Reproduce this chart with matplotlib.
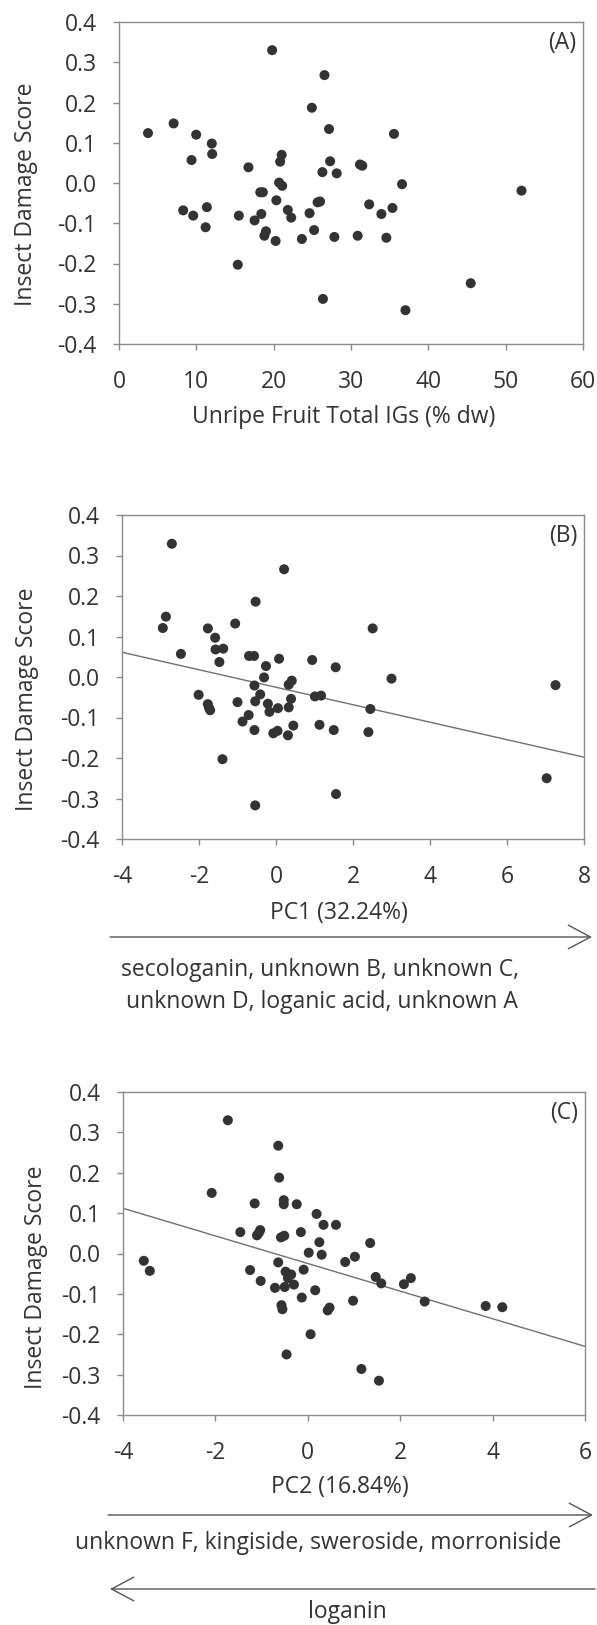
import matplotlib
matplotlib.use("Agg")
import matplotlib.pyplot as plt
import numpy as np

plt.rcParams['font.family'] = ['Open Sans', 'DejaVu Sans']

# ---------------- data ----------------
A_x = [3.75, 7.06, 9.98, 12.0, 12.05, 9.38, 8.3, 9.6, 11.36, 11.2, 15.5, 15.36, 16.74, 17.53,
       18.27, 18.6, 18.4, 19.0, 18.8, 19.8, 20.25, 20.35, 20.7, 21.1, 21.04, 20.84, 21.83, 22.27,
       23.65, 24.64, 24.94, 25.23, 25.68, 26.0, 26.3, 26.57, 26.37, 27.16, 27.3, 27.85, 28.15,
       30.86, 31.16, 31.46, 32.35, 33.93, 34.57, 35.36, 35.56, 36.6, 37.04, 45.48, 52.05]
A_y = [0.124, 0.148, 0.120, 0.098, 0.072, 0.057, -0.068, -0.081, -0.060, -0.110, -0.081, -0.203,
       0.039, -0.093, -0.023, -0.023, -0.077, -0.120, -0.131, 0.330, -0.144, -0.043, 0.001, -0.007,
       0.070, 0.053, -0.067, -0.086, -0.139, -0.075, 0.187, -0.117, -0.048, -0.046, 0.027, 0.268,
       -0.288, 0.134, 0.054, -0.134, 0.024, -0.131, 0.046, 0.043, -0.053, -0.077, -0.136, -0.062,
       0.122, -0.003, -0.316, -0.249, -0.019]

B_x = [-2.705, -2.86, -2.94, -2.47, -1.77, -1.58, -1.57, -1.37, -1.47, -1.06, -2.01, -1.77, -1.74,
       -1.71, -1.39, -1.0, -0.87, -0.71, -0.70, -0.57, -0.53, -0.56, -0.54, -0.41, -0.56, -0.54,
       -0.26, -0.31, -0.21, -0.17, -0.07, 0.05, 0.04, 0.08, 0.21, 0.31, 0.33, 0.33, 0.39, 0.41, 0.45,
       0.94, 1.01, 1.17, 1.13, 1.50, 1.55, 1.56, 2.40, 2.45, 2.51, 3.00, 7.03, 7.26]
B_y = [0.329, 0.149, 0.121, 0.057, 0.120, 0.097, 0.068, 0.070, 0.037, 0.132, -0.044, -0.067, -0.076,
       -0.082, -0.203, -0.062, -0.110, -0.094, 0.052, 0.052, 0.186, -0.021, -0.060, -0.043, -0.131,
       -0.317, 0.027, -0.001, -0.066, -0.086, -0.139, -0.077, -0.133, 0.045, 0.266, -0.144, -0.075,
       -0.019, -0.054, -0.009, -0.120, 0.042, -0.048, -0.046, -0.118, -0.131, 0.024, -0.289, -0.136,
       -0.079, 0.120, -0.004, -0.250, -0.020]
B_fit = (-0.02158, -0.0253)   # slope, intercept

C_x = [-1.73, -2.08, -3.55, -3.42, -1.46, -1.15, -1.25, -1.03, -1.06, -1.10, -1.02, -0.71, -0.64,
       -0.62, -0.64, -0.58, -0.51, -0.52, -0.52, -0.57, -0.55, -0.46, -0.48, -0.50, -0.43, -0.36,
       -0.30, -0.24, -0.15, -0.09, -0.13, 0.02, 0.06, 0.16, 0.19, 0.25, 0.30, 0.34, 0.43, 0.47, 0.61,
       0.81, 0.98, 1.02, 1.16, 1.35, 1.47, 1.54, 1.59, 2.08, 2.23, 2.53, 3.85, 4.21]
C_y = [0.330, 0.150, -0.018, -0.043, 0.053, 0.124, -0.041, 0.058, 0.051, 0.045, -0.068, -0.085,
       0.267, 0.188, -0.022, 0.040, 0.044, 0.132, 0.122, -0.128, -0.138, -0.250, -0.045, -0.083,
       -0.061, -0.052, -0.077, 0.122, 0.053, -0.040, -0.109, 0.002, -0.200, -0.091, 0.098, 0.028,
       -0.003, 0.071, -0.141, -0.134, 0.071, -0.021, -0.117, -0.008, -0.286, 0.026, -0.058, -0.315,
       -0.074, -0.076, -0.061, -0.119, -0.130, -0.133]
C_fit = (-0.0342, -0.0248)

y_ticks = [-0.4, -0.3, -0.2, -0.1, 0.0, 0.1, 0.2, 0.3, 0.4]
A_xticks = [0, 10, 20, 30, 40, 50, 60]
B_xticks = [-4, -2, 0, 2, 4, 6, 8]
C_xticks = [-4, -2, 0, 2, 4, 6]

ylabel = "Insect Damage Score"
A_xlabel = "Unripe Fruit Total IGs (% dw)"
B_xlabel = "PC1 (32.24%)"
C_xlabel = "PC2 (16.84%)"
B_pos_text = ["secologanin, unknown B, unknown C,", "unknown D, loganic acid, unknown A"]
C_pos_text = "unknown F, kingiside, sweroside, morroniside"
C_neg_text = "loganin"

# ---------------- figure ----------------
W, H = 597, 1625
fig = plt.figure(figsize=(W / 100, H / 100), dpi=100)

TXT = '#333333'
SP = '#8c8c8c'
DOT = '#333333'
FS = 16.5


def add_axes(left, right, top, bottom):
    return fig.add_axes([left / W, 1 - bottom / H, (right - left) / W, (bottom - top) / H])


def style(ax, xlim, xticks, xlabel, label, ylab_x, ylab_y, xlab_x, xlab_y):
    ax.set_xlim(*xlim)
    ax.set_ylim(-0.4, 0.4)
    ax.set_xticks(xticks)
    ax.set_xticklabels([str(t) for t in xticks])
    ax.set_yticks(y_ticks)
    ax.set_yticklabels([f"{t:.1f}" for t in y_ticks])
    for s in ax.spines.values():
        s.set_color(SP)
        s.set_linewidth(1.0)
    ax.tick_params(axis='both', direction='out', length=4, width=1, color=SP,
                   labelsize=FS, labelcolor=TXT)
    ax.tick_params(axis='y', pad=12)
    ax.tick_params(axis='x', pad=15)
    ax.set_ylabel(ylabel, fontsize=FS, color=TXT)
    ax.set_xlabel(xlabel, fontsize=FS, color=TXT)
    ax.yaxis.set_label_coords(ylab_x, ylab_y)
    ax.xaxis.set_label_coords(xlab_x, xlab_y)
    ax.text(0.985, 1 - 21 / 323, label, transform=ax.transAxes, ha='right', va='center',
            fontsize=FS, color=TXT)


MS = 52

# Panel A
axA = add_axes(119, 583, 22, 344)
axA.scatter(A_x, A_y, s=MS, color=DOT, edgecolors='none', zorder=3)
style(axA, (0, 60), A_xticks, A_xlabel, "(A)", -0.174, 0.466, 0.485, -0.19)

# Panel B
axB = add_axes(122, 584, 515, 839)
axB.scatter(B_x, B_y, s=MS, color=DOT, edgecolors='none', zorder=3)
xx = np.array([-4, 8])
axB.plot(xx, B_fit[0] * xx + B_fit[1], color='#707070', lw=1.0, zorder=2)
style(axB, (-4, 8), B_xticks, B_xlabel, "(B)", -0.179, 0.432, 0.47, -0.19)

# Panel C
axC = add_axes(123, 585, 1092, 1415)
axC.scatter(C_x, C_y, s=MS, color=DOT, edgecolors='none', zorder=3)
xx = np.array([-4, 6])
axC.plot(xx, C_fit[0] * xx + C_fit[1], color='#707070', lw=1.0, zorder=2)
style(axC, (-4, 6), C_xticks, C_xlabel, "(C)", -0.163, 0.427, 0.47, -0.185)


def arrow(x0, x1, y):
    fig.patches.append(matplotlib.patches.FancyArrowPatch(
        (x0 / W, 1 - y / H), (x1 / W, 1 - y / H), transform=fig.transFigure,
        arrowstyle='->,head_length=1.6,head_width=0.85', mutation_scale=10,
        color='#555555', lw=1.0, shrinkA=0, shrinkB=0))


def ftext(x, y, s):
    fig.text(x / W, 1 - y / H, s, ha='center', va='center', fontsize=FS, color=TXT)


arrow(110, 592, 937)
ftext(320, 970, B_pos_text[0])
ftext(322, 1002, B_pos_text[1])

arrow(108, 593, 1515)
ftext(318, 1543, C_pos_text)
arrow(595, 110, 1589)
ftext(347, 1612, C_neg_text)

fig.savefig("out.png", dpi=100)
